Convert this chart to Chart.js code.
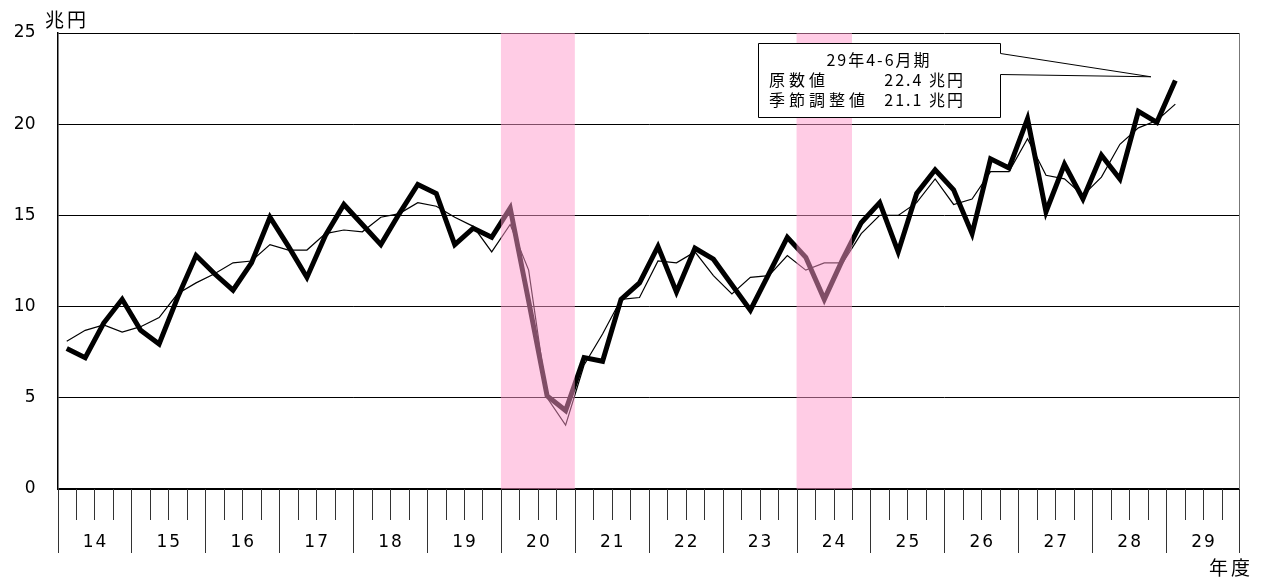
<!DOCTYPE html>
<html>
<head>
    <title>四半期推移</title>
    <style>
        body { margin: 0; background: #fff; }
        #wrap { width: 1269px; height: 581px; }
    </style>
</head>
<body>
    <div id="wrap"><canvas id="chart" width="1269" height="581"></canvas></div>
    <script src="https://cdn.jsdelivr.net/npm/chart.js"></script>
    <script>
        // fiscal years on the axis, four quarters each
        const years = [14, 15, 16, 17, 18, 19, 20, 21, 22, 23, 24, 25, 26, 27, 28, 29];
        const quarters = ['4-6', '7-9', '10-12', '1-3'];

        // 原数値 (thick line), 兆円
        const original = [
            7.7, 7.2, 9.1, 10.4,
            8.7, 7.95, 10.5, 12.8,
            11.8, 10.9, 12.4, 14.9,
            13.3, 11.6, 13.9, 15.6,
            14.5, 13.4, 15.1, 16.7,
            16.2, 13.4, 14.3, 13.8,
            15.4, 10.3, 5.1, 4.3,
            7.2, 7.0, 10.4, 11.3,
            13.3, 10.8, 13.2, 12.6,
            11.2, 9.8, 11.8, 13.8,
            12.7, 10.4, 12.6, 14.6,
            15.7, 13.0, 16.2, 17.5,
            16.4, 14.0, 18.1, 17.6,
            20.3, 15.2, 17.8, 15.9,
            18.3, 17.0, 20.7, 20.1,
            22.4
        ];

        // 季節調整値 (thin line), 兆円
        const adjusted = [
            8.1, 8.7, 9.0, 8.6,
            8.9, 9.4, 10.7, 11.3,
            11.8, 12.4, 12.5, 13.4,
            13.1, 13.1, 14.0, 14.2,
            14.1, 14.9, 15.1, 15.7,
            15.5, 14.9, 14.4, 13.0,
            14.5, 12.0, 5.0, 3.5,
            6.8, 8.5, 10.4, 10.5,
            12.5, 12.4, 13.0, 11.7,
            10.7, 11.6, 11.7, 12.8,
            12.0, 12.4, 12.4, 14.0,
            15.0, 15.0, 15.7, 17.0,
            15.6, 15.9, 17.4, 17.4,
            19.2, 17.2, 17.0, 16.1,
            17.1, 18.9, 19.8, 20.2,
            21.1
        ];

        // shaded quarters (first and last index, inclusive)
        const shadeRanges = [[24, 27], [40, 42]];

        const yTicks = [0, 5, 10, 15, 20, 25];
        const unitLabel = '兆円';
        const axisLabel = '年度';
        const noteTitle = '29年4-6月期';
        const noteNames = ['原数値', '季節調整値'];

        const labels = [];
        years.forEach(y => quarters.forEach(q => labels.push(y + '年' + q + '月期')));

        const last = original.length - 1;
        const noteValues = [original[last], adjusted[last]].map(v => v.toFixed(1) + ' 兆円');

        function drawText(ctx, text, x, y, font, align, spacing) {
            ctx.font = font;
            ctx.textAlign = align;
            ctx.textBaseline = 'middle';
            ctx.letterSpacing = (spacing || 0) + 'px';
            ctx.fillText(text, x, y);
            ctx.letterSpacing = '0px';
        }

        function line(ctx, x1, y1, x2, y2) {
            ctx.beginPath();
            ctx.moveTo(x1, y1);
            ctx.lineTo(x2, y2);
            ctx.stroke();
        }

        const decor = {
            id: 'decor',
            afterDatasetsDraw(chart) {
                const { ctx, chartArea: a, scales: { x, y } } = chart;
                const half = (x.getPixelForValue(1) - x.getPixelForValue(0)) / 2;
                ctx.save();

                // recession shading, drawn over the lines
                ctx.fillStyle = 'rgba(255, 153, 204, 0.5)';
                shadeRanges.forEach(([s, e]) => {
                    const l = x.getPixelForValue(s) - half;
                    const r = x.getPixelForValue(e) + half;
                    ctx.fillRect(l, a.top, r - l, a.bottom - a.top);
                });

                // right frame
                ctx.strokeStyle = '#777';
                ctx.lineWidth = 1;
                line(ctx, a.right - 0.5, a.top, a.right - 0.5, a.bottom);

                // quarter ticks and year dividers
                ctx.strokeStyle = '#333';
                for (let i = 0; i <= labels.length; i++) {
                    let px = Math.round(x.getPixelForValue(i) - half) + 0.5;
                    if (i === labels.length) px = a.right - 0.5;
                    const len = i % 4 === 0 ? 64 : 31;
                    line(ctx, px, a.bottom, px, a.bottom + len);
                }

                // year labels
                ctx.fillStyle = '#000';
                years.forEach((yr, k) => {
                    const cx = x.getPixelForValue(k * 4 + 1.5);
                    drawText(ctx, String(yr), cx + 1, a.bottom + 54, '17px "DejaVu Sans"', 'center', 2);
                });

                // note box with pointer
                const bl = 758.5, bt = 43.5, br = 1000.5, bb = 117.5;
                const tipX = x.getPixelForValue(last - 1) - 6;
                const tipY = y.getPixelForValue(22.6);
                ctx.beginPath();
                ctx.moveTo(bl, bt);
                ctx.lineTo(br, bt);
                ctx.lineTo(br, bt + 10);
                ctx.lineTo(tipX, tipY);
                ctx.lineTo(br, bt + 31);
                ctx.lineTo(br, bb);
                ctx.lineTo(bl, bb);
                ctx.closePath();
                ctx.fillStyle = '#fff';
                ctx.fill();
                ctx.strokeStyle = '#000';
                ctx.lineWidth = 1;
                ctx.stroke();

                ctx.fillStyle = '#000';
                const jp = '16px "Noto Sans CJK JP"';
                drawText(ctx, noteTitle, 879, 60, jp, 'center', 2);
                drawText(ctx, noteNames[0], 769, 80, jp, 'left', 4);
                drawText(ctx, noteNames[1], 769, 100, jp, 'left', 4);
                drawText(ctx, noteValues[0], 965, 80, jp, 'right', 2);
                drawText(ctx, noteValues[1], 965, 100, jp, 'right', 2);

                // axis titles
                drawText(ctx, unitLabel, 45, 20, '19px "Noto Sans CJK JP"', 'left', 3);
                drawText(ctx, axisLabel, 1253, 568, '19px "Noto Sans CJK JP"', 'right', 3);

                ctx.restore();
            }
        };

        new Chart(document.getElementById('chart'), {
            type: 'line',
            data: {
                labels: labels,
                datasets: [
                    {
                        label: '季節調整値',
                        data: adjusted,
                        borderColor: '#000',
                        borderWidth: 1.2,
                        pointRadius: 0,
                        tension: 0,
                        fill: false
                    },
                    {
                        label: '原数値',
                        data: original,
                        borderColor: '#000',
                        borderWidth: 5,
                        borderJoinStyle: 'miter',
                        pointRadius: 0,
                        tension: 0,
                        fill: false
                    }
                ]
            },
            options: {
                responsive: false,
                animation: false,
                layout: { padding: { left: 0, right: 29, top: 33, bottom: 92 } },
                plugins: {
                    legend: { display: false },
                    tooltip: { enabled: false }
                },
                scales: {
                    x: {
                        type: 'category',
                        offset: true,
                        display: false
                    },
                    y: {
                        min: 0,
                        max: 25,
                        afterFit: s => { s.width = 57.5; },
                        afterBuildTicks: s => { s.ticks = yTicks.map(v => ({ value: v })); },
                        border: { display: true, color: '#000', width: 1.5 },
                        grid: {
                            color: '#000',
                            lineWidth: c => (c.tick && c.tick.value === 0 ? 2 : 1),
                            drawTicks: false
                        },
                        ticks: {
                            padding: 22,
                            color: '#000',
                            font: { family: 'DejaVu Sans', size: 17 }
                        }
                    }
                }
            },
            plugins: [decor]
        });
    </script>
</body>
</html>
